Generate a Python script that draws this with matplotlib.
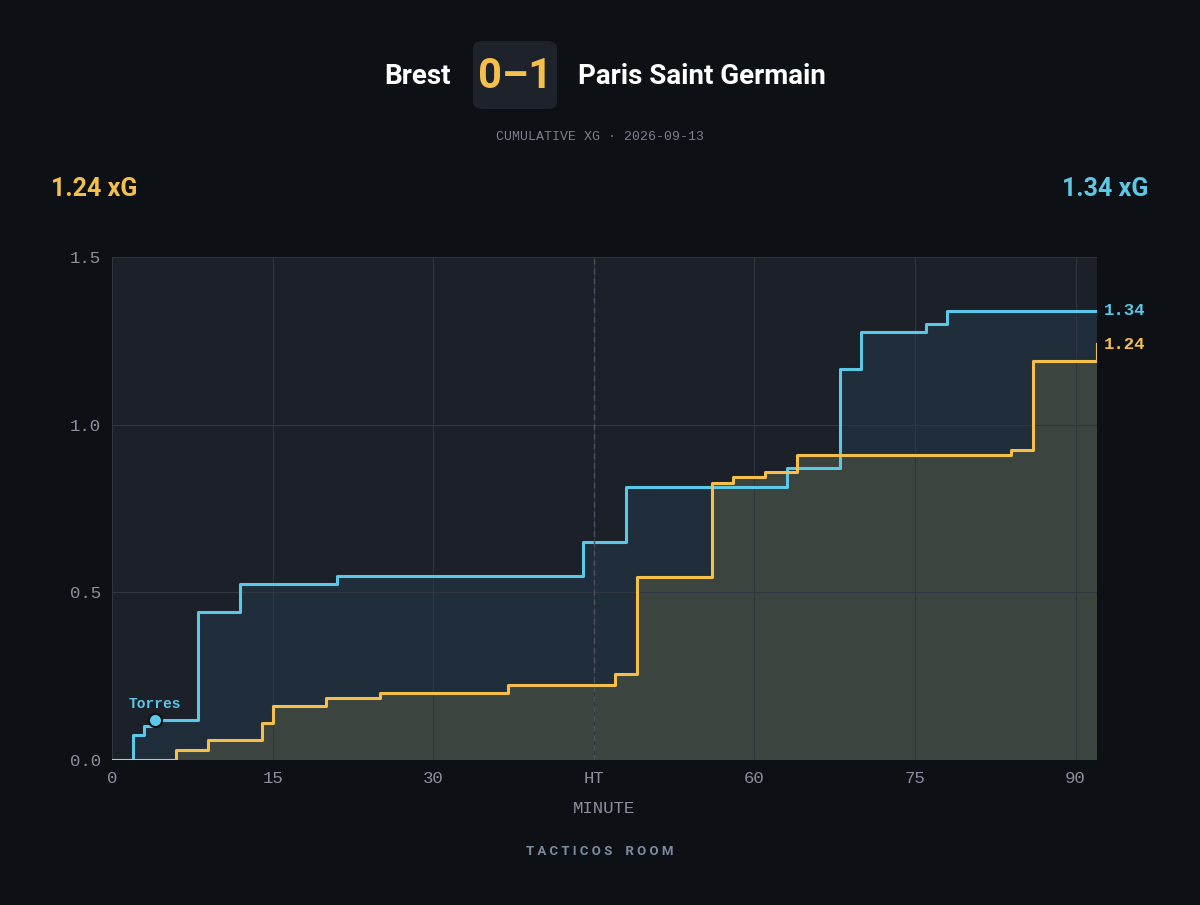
import matplotlib
matplotlib.use("Agg")
import matplotlib.pyplot as plt
from matplotlib.patches import FancyBboxPatch

home_team = "Brest"; away_team = "Paris Saint Germain"
score = "0–1"
home_min = [0, 6, 9, 14, 15, 20, 25, 37, 47, 49, 56, 58, 61, 64, 84, 86, 92]
home_xg = [0, 0.03, 0.06, 0.11, 0.16, 0.185, 0.20, 0.225, 0.255, 0.545, 0.825, 0.845, 0.86, 0.91, 0.925, 1.19, 1.24]
away_min = [0, 2, 3, 4, 8, 12, 21, 44, 48, 63, 68, 70, 76, 78, 92]
away_xg = [0, 0.075, 0.10, 0.12, 0.44, 0.525, 0.55, 0.65, 0.815, 0.87, 1.165, 1.275, 1.30, 1.34, 1.34]
goal_min = [4]; goal_xg = [0.12]; goal_name = ["Torres"]
xticks = [0, 15, 30, 45, 60, 75, 90]
xticklabels = ["0", "15", "30", "HT", "60", "75", "90"]

BG = "#0d1015"; PANEL = "#1b2029"; YEL = "#f5c04a"; BLUE = "#5bc8e6"
COND = ["Roboto", "DejaVu Sans"]
MONO = ["Liberation Mono", "DejaVu Sans Mono"]
fig = plt.figure(figsize=(12, 9.05), dpi=100, facecolor=BG)
ax = fig.add_axes([112/1200, 1-760/905, (1097-112)/1200, (760-257)/905])
ax.set_facecolor(PANEL)
ax.set_xlim(0, 92); ax.set_ylim(0, 1.5)
ax.fill_between(away_min, away_xg, step="post", color="#24384a", alpha=0.6, lw=0)
ax.fill_between(home_min, home_xg, step="post", color="#3e4640", alpha=0.95, lw=0)
ax.step(away_min, away_xg, where="post", color=BLUE, lw=2.2)
ax.step(home_min, home_xg, where="post", color=YEL, lw=2.2)
ax.plot([home_min[-1]]*2, [home_xg[-2], home_xg[-1]], color=YEL, lw=2.2)
ax.axvline(45, color="#4a5260", ls=(0, (4, 3)), lw=1)
for m, v, n in zip(goal_min, goal_xg, goal_name):
    ax.scatter([m], [v], s=90, color=BLUE, edgecolor="#0d1015", lw=1.5, zorder=5)
    ax.text(m, v + 0.025, n, color=BLUE, fontsize=10.5, fontweight="bold", family=MONO, ha="center", va="bottom")
ax.text(1.007, away_xg[-1], f"{away_xg[-1]:.2f}", transform=ax.get_yaxis_transform(), color=BLUE, fontsize=12.5, fontweight="bold", family=MONO, va="center")
ax.text(1.007, home_xg[-1], f"{home_xg[-1]:.2f}", transform=ax.get_yaxis_transform(), color=YEL, fontsize=12.5, fontweight="bold", family=MONO, va="center")
ax.set_xticks(xticks); ax.set_xticklabels(xticklabels)
ax.set_yticks([0, 0.5, 1.0, 1.5]); ax.set_yticklabels(["0.0", "0.5", "1.0", "1.5"])
ax.grid(color="#2f3640", lw=0.8)
ax.tick_params(colors="#8a919c", length=0, labelsize=12.5, pad=8)
for l in ax.get_xticklabels() + ax.get_yticklabels():
    l.set_family(MONO)
for s in ax.spines.values(): s.set_visible(False)
ax.set_xlabel("MINUTE", color="#8a919c", fontsize=12.5, family=MONO, labelpad=11)

fig.add_artist(FancyBboxPatch((473/1200, 1-109/905), 84/1200, 68/905, boxstyle="round,pad=0,rounding_size=0.008",
                              transform=fig.transFigure, facecolor="#1d222b", edgecolor="none"))
fig.text(515/1200, 1-76/905, score, color=YEL, fontsize=30, fontweight="bold", family=COND, ha="center", va="center")
fig.text(451/1200, 1-76/905, home_team, color="white", fontsize=20, fontweight="bold", family=COND, ha="right", va="center")
fig.text(578/1200, 1-76/905, away_team, color="white", fontsize=20, fontweight="bold", family=COND, ha="left", va="center")
fig.text(0.5, 1-137/905, "CUMULATIVE XG · 2026-09-13", color="#7a818c", fontsize=9.5, family=MONO, ha="center", va="center")
fig.text(51/1200, 1-189/905, f"{home_xg[-1]:.2f} xG", color=YEL, fontsize=18, fontweight="bold", family=COND, ha="left", va="center")
fig.text(1148/1200, 1-189/905, f"{away_xg[-1]:.2f} xG", color=BLUE, fontsize=18, fontweight="bold", family=COND, ha="right", va="center")
fig.text(0.5, 1-851/905, "T A C T I C O S    R O O M", color="#7d8aa0", fontsize=9.5, fontweight="bold", family=COND, ha="center", va="center")
fig.savefig("out.png", facecolor=BG)
